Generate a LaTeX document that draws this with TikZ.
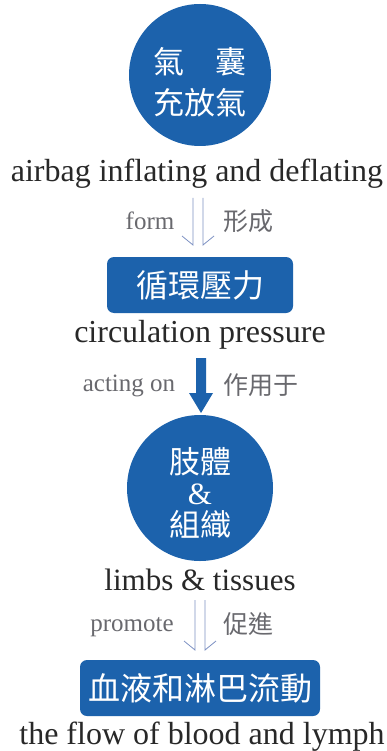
\documentclass[tikz,border=0pt]{standalone}
\usepackage{fontspec}
\setmainfont{Liberation Serif}
\newfontfamily\cjk{Noto Sans CJK TC}
\definecolor{mblue}{RGB}{28,98,172}
\definecolor{lblue}{RGB}{125,145,195}
\definecolor{lgray}{RGB}{105,105,110}
\definecolor{dtext}{RGB}{40,40,40}
\begin{document}
\begin{tikzpicture}[x=1pt,y=-1pt,
  bubble/.style={circle,fill=mblue,draw=none,minimum size=#1,inner sep=0pt},
  boxnode/.style={rounded corners=7pt,fill=mblue,draw=none,minimum width=#1,minimum height=56pt,inner sep=0pt},
  cjkw/.style={text=white,font=\cjk\fontsize{31}{34}\selectfont,align=center},
  caption/.style={text=dtext,font=\fontsize{32}{34}\selectfont,inner sep=0pt},
  lbl/.style={text=lgray,font=\fontsize{25}{27}\selectfont,inner sep=0pt},
  lblc/.style={text=lgray,font=\cjk\fontsize{25}{27}\selectfont,inner sep=0pt},
  thin/.style={draw=lblue,line width=0.8pt},
]
\useasboundingbox[fill=white] (0,0) rectangle (387,751);

% circle 1
\node[bubble=142pt] (c1) at (200,75) {};
\node[cjkw,inner sep=0pt] (t1a) at (200,62) {氣\hspace{1em}囊};
\node[cjkw,inner sep=0pt] (t1b) at (200,103) {充放氣};
\node[caption] (cap1) at (197,174) {airbag inflating and deflating};

% arrow form
\coordinate (f1t) at (193,198);
\coordinate (f1b) at (193,245);
\coordinate (f2t) at (203,198);
\coordinate (f2b) at (203,245);
\draw[thin] (f1t) -- (f1b) -- ++(-11,-9);
\draw[thin] (f2t) -- (f2b) -- ++(11,-9);
\node[lbl] (form) at (150,221) {form};
\node[lblc] (xc) at (248,221) {形成};

% box 1
\node[boxnode=186pt] (b1) at (200,285) {};
\node[cjkw,font=\cjk\fontsize{32}{34}\selectfont] (b1t) at (b1) {循環壓力};
\node[caption] (cap2) at (200,335) {circulation pressure};

% thick arrow
\coordinate (at) at (201,358);
\coordinate (ab) at (201,413);
\fill[mblue] (196,358) -- (206,358) -- (206,393) -- (213,393) -- (201,413) -- (189,393) -- (196,393) -- cycle;
\node[lbl] (act) at (129,386) {acting on};
\node[lblc] (zy) at (261,385) {作用于};

% circle 2
\node[bubble=146pt] (c2) at (200,488) {};
\node[cjkw,inner sep=0pt] (t2a) at (200,462) {肢體};
\node[text=white,font=\fontsize{31}{32}\selectfont,inner sep=0pt] (amp) at (200,494) {\&};
\node[cjkw,inner sep=0pt] (t2c) at (200,524) {組織};
\node[caption,font=\fontsize{31}{34}\selectfont] (cap3) at (200,580) {limbs \& tissues};

% arrow promote
\coordinate (p1t) at (195,600);
\coordinate (p1b) at (195,650);
\coordinate (p2t) at (205,600);
\coordinate (p2b) at (205,650);
\draw[thin] (p1t) -- (p1b) -- ++(-11,-9);
\draw[thin] (p2t) -- (p2b) -- ++(11,-9);
\node[lbl] (prom) at (132,627) {promote};
\node[lblc] (cj) at (248,624) {促進};

% box 2
\node[boxnode=240pt] (b2) at (200,688) {};
\node[cjkw,font=\cjk\fontsize{32}{34}\selectfont] (b2t) at (b2) {血液和淋巴流動};
\node[caption] (cap4) at (202,737) {the flow of blood and lymph};
\end{tikzpicture}
\end{document}
